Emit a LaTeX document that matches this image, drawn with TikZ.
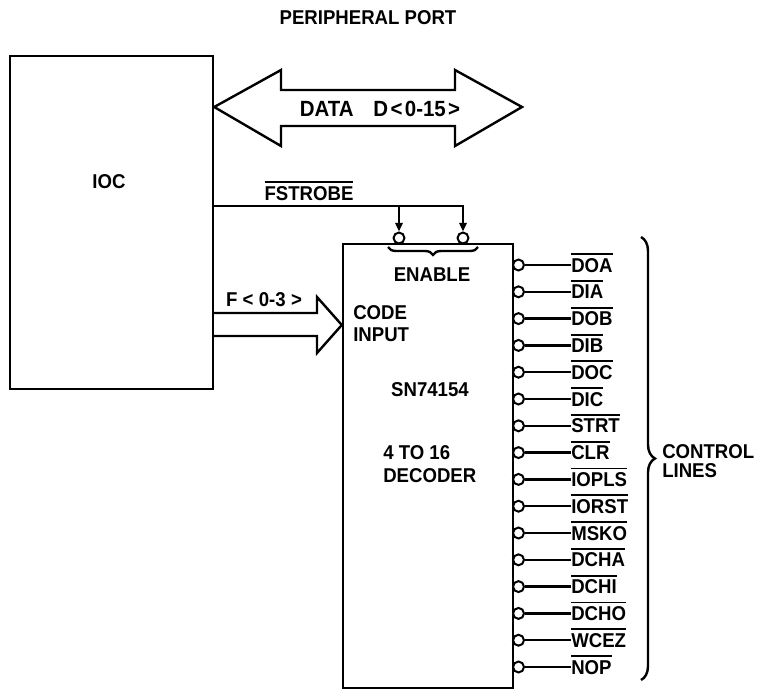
\documentclass[tikz,border=0pt]{standalone}
\usepackage{fontspec}
\setmainfont{Liberation Sans}[FakeStretch=0.93]
\usetikzlibrary{arrows.meta,decorations.pathreplacing}
\newcommand\ovl[1]{\vbox{\hrule height 1.3pt\kern2.4pt\hbox{#1}}}
\newcommand\lab{\fontsize{15}{17}\selectfont\bfseries}
\begin{document}
\begin{tikzpicture}[x=0.75pt,y=-0.75pt,
  ln/.style={line width=1.8pt},
  txt/.style={font=\lab, inner sep=0pt},
  bubble/.style={circle, draw, line width=1.5pt, inner sep=0pt, minimum size=8.2pt, fill=white},
  arr/.style={ln, -{Triangle[length=6.5pt,width=5.5pt]}},
  blk/.style={draw, ln, inner sep=0pt},
]
\useasboundingbox (0,0) rectangle (760,693);

\node[txt] (pp) at (368,18) {PERIPHERAL PORT};

% IOC
\node[blk, minimum width=152.25pt, minimum height=249.75pt] (ioc) at (111.5,222.5) {};
\node[txt] (ioct) at (109,182) {IOC};

% data bus double arrow
\draw[ln, fill=white] (ioc.east |- 0,107) -- (281,70) -- (281,90) -- (455,90) -- (455,70)
  -- (522,107) -- (455,146) -- (455,126) -- (281,126) -- (281,146) -- cycle;
\node[txt, font=\fontsize{16.5}{18}\selectfont\bfseries] (data) at (380,109)
  {DATA\hspace{0.9em}D\kern1.8pt<\kern1.8pt0-15\kern1.8pt>};

% decoder
\node[blk, minimum width=127.5pt, minimum height=333pt] (dec) at (428,466) {};

% enable inputs
\node[bubble] (e1) at (399,238) {};
\node[bubble] (e2) at (463,238) {};
\coordinate (fs) at (ioc.east |- 0,206);
\draw[arr] (fs) -| (e2.north);
\draw[arr] (e1 |- fs) -- (e1.north);
\node[txt, anchor=base] (fst) at (309,200) {\ovl{FSTROBE}};
\draw[ln, decorate, decoration={brace, mirror, amplitude=6pt}] (388,247) -- (478,247);
\node[txt] (en) at (432,275) {ENABLE};

% code input bus
\draw[ln] (ioc.east |- 0,313) -- (317,313) -- (317,297) -- (dec.west |- 0,325)
  -- (317,353) -- (317,336) -- (ioc.east |- 0,336);
\node[txt] (f) at (264,300) {F\kern4pt<\kern4pt0-3\kern4pt>};
\node[txt, anchor=west, align=left, font=\fontsize{15}{16.5}\selectfont\bfseries] (ci) at (353,324) {CODE\\INPUT};

\node[txt] (sn) at (430,390) {SN74154};
\node[txt, anchor=west, align=left, font=\fontsize{15}{17.25}\selectfont\bfseries] (dc) at (383,464.5) {4 TO 16\\DECODER};

% outputs
\foreach \n [count=\i from 0] in {DOA,DIA,DOB,DIB,DOC,DIC,STRT,CLR,IOPLS,IORST,MSKO,DCHA,DCHI,DCHO,WCEZ,NOP} {
  \pgfmathsetmacro\yy{265+26.8*\i}
  \node[bubble] (o\i) at (518.5,\yy) {};
  \node[txt, anchor=base west] (l\i) at (571,\yy+7.1) {\ovl{\n}};
  \draw[ln] (o\i.east) -- (l\i.west |- o\i.east);
}

\draw[ln, decorate, decoration={brace, amplitude=10.5pt}] (641,237) -- (641,680);
\node[txt, anchor=west, align=left, font=\fontsize{15}{14}\selectfont\bfseries] (cl) at (662,461) {CONTROL\\LINES};
\end{tikzpicture}
\end{document}
